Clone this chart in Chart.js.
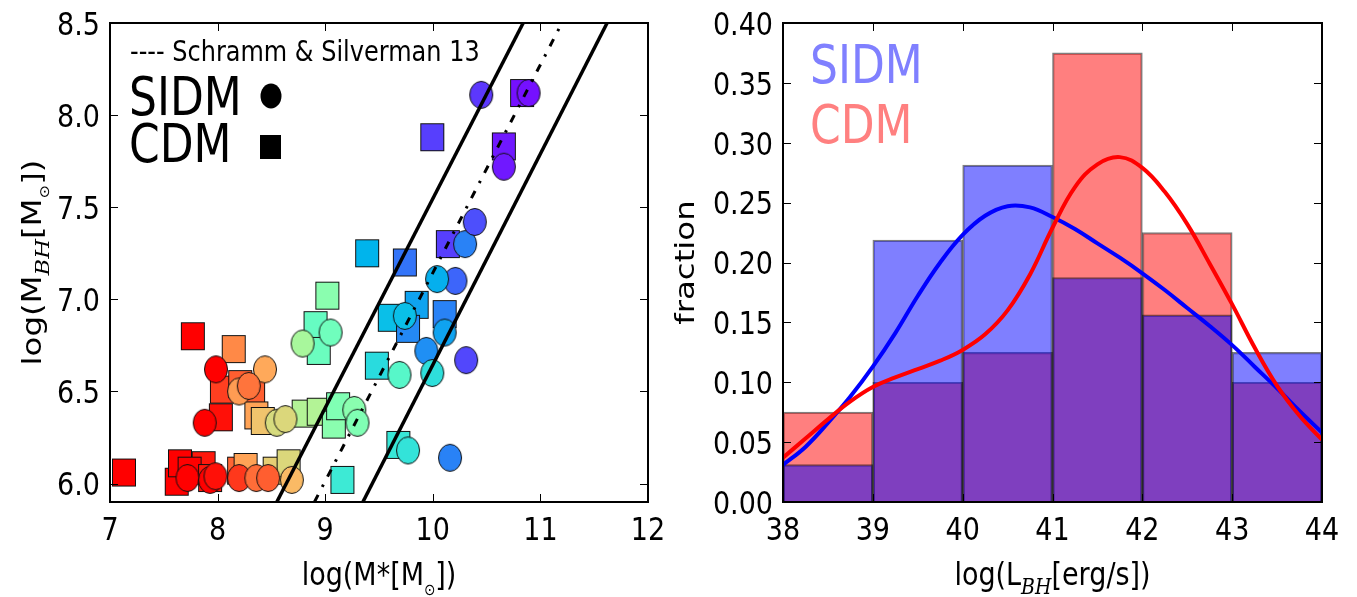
<!DOCTYPE html>
<html><head><meta charset="utf-8">
<script src="https://cdn.jsdelivr.net/npm/chart.js@4.4.1/dist/chart.umd.min.js"></script>
<style>
html,body{margin:0;padding:0;background:#fff;width:1357px;height:597px;overflow:hidden}
#c1{position:absolute;left:0;top:0}
#c2{position:absolute;left:640px;top:0}
</style></head><body>
<canvas id="c1" width="700" height="597"></canvas>
<canvas id="c2" width="717" height="597"></canvas>
<script>
// ---------- Left panel data: log M* vs log M_BH ----------
const cdmMstar = [7.13,7.77,8.15,8.04,8.21,8.33,8.03,8.36,8.42,7.62,7.65,7.87,7.74,7.93,8.20,8.26,8.53,8.66,9.16,8.80,8.94,9.08,9.12,8.91,8.94,9.02,9.39,9.48,9.74,10.14,9.60,9.85,10.11,9.77,9.68,10.83,9.995,10.66];
const cdmMbh   = [6.06,6.80,6.73,6.51,6.54,6.51,6.36,6.37,6.34,6.01,6.11,6.10,6.07,6.03,6.07,6.09,6.07,6.11,6.02,6.38,6.39,6.32,6.42,6.86,6.72,7.02,7.25,6.64,7.20,7.30,6.90,6.97,6.92,6.84,6.21,8.12,7.88,7.83];
const cdmColour= [1.0,1.0,0.82,0.92,0.88,0.88,0.98,0.78,0.72,1.0,1.0,0.97,1.0,0.97,0.87,0.78,0.70,0.68,0.37,0.60,0.60,0.52,0.50,0.45,0.46,0.52,0.25,0.33,0.15,0.08,0.27,0.22,0.17,0.18,0.36,0.02,0.08,0.03];

const sidmMstar = [7.985,7.88,8.44,8.20,8.29,8.55,8.63,8.79,9.05,7.72,7.93,7.98,8.20,8.36,8.47,8.69,10.30,10.21,10.04,9.74,10.11,9.94,10.31,9.995,9.69,9.27,9.30,9.77,10.16,10.45,10.89,10.66,10.39];
const sidmMbh   = [6.62,6.33,6.62,6.50,6.53,6.33,6.35,6.76,6.82,6.03,6.02,6.04,6.03,6.03,6.03,6.02,7.30,7.10,7.11,6.91,6.82,6.72,6.67,6.60,6.59,6.40,6.33,6.18,6.14,8.11,8.12,7.72,7.42];
const sidmColour= [1.0,1.0,0.77,0.79,0.85,0.67,0.68,0.58,0.47,1.0,1.0,0.98,0.93,0.86,0.88,0.74,0.17,0.13,0.24,0.27,0.22,0.19,0.09,0.34,0.42,0.52,0.50,0.35,0.17,0.07,0.02,0.03,0.10];

// relation lines (end points, data units)
const ssRelX = [8.90, 11.20], ssRelY = [5.9, 8.5];     // Schramm & Silverman 13
const upperX = [8.55, 10.84], upperY = [5.9, 8.5];
const lowerX = [9.35, 11.62], lowerY = [5.9, 8.5];

const leftXTicks = [7,8,9,10,11,12];
const leftXLabels = ['7','8','9','10','11','12'];
const leftYTicks = [6.0,6.5,7.0,7.5,8.0,8.5];
const leftYLabels = ['6.0','6.5','7.0','7.5','8.0','8.5'];

// ---------- Right panel data: histogram of log L_BH ----------
const binCenters = [38.5,39.5,40.5,41.5,42.5,43.5];
const sidmFrac = [0.03125,0.21875,0.28125,0.1875,0.15625,0.125];
const cdmFrac  = [0.075,0.100,0.125,0.375,0.225,0.100];
const kdeX    = [38,38.25,38.5,38.75,39,39.25,39.5,39.75,40,40.25,40.5,40.75,41,41.25,41.5,41.75,42,42.25,42.5,42.75,43,43.25,43.5,43.75,44];
const sidmKde = [0.031,0.046,0.066,0.088,0.113,0.141,0.172,0.200,0.223,0.239,0.247,0.246,0.238,0.228,0.216,0.204,0.191,0.177,0.162,0.147,0.131,0.113,0.095,0.076,0.058];
const cdmKde  = [0.037,0.053,0.069,0.084,0.096,0.104,0.111,0.118,0.127,0.140,0.160,0.190,0.229,0.263,0.282,0.288,0.279,0.259,0.232,0.199,0.165,0.129,0.097,0.072,0.052];

const rightXTicks = [38,39,40,41,42,43,44];
const rightXLabels = ['38','39','40','41','42','43','44'];
const rightYTicks = [0,0.05,0.10,0.15,0.20,0.25,0.30,0.35,0.40];
const rightYLabels = ['0.00','0.05','0.10','0.15','0.20','0.25','0.30','0.35','0.40'];

// ---------- helpers ----------
const SY = 1.2;        // vertical stretch of the original figure
const FS = 27;         // tick / title font size
const TL = 8;          // tick length
const SANS = '"DejaVu Sans"';

function rainbow(c){
  const r = Math.min(1, Math.abs(2*c-0.5)), g = Math.max(0, Math.sin(Math.PI*c)), b = Math.max(0, Math.cos(Math.PI*c/2));
  return `rgb(${Math.round(r*255)},${Math.round(g*255)},${Math.round(b*255)})`;
}
function marker(shape, colour){
  const cv = document.createElement('canvas');
  cv.width = 26; cv.height = 30;
  const g = cv.getContext('2d');
  g.fillStyle = colour; g.strokeStyle = '#111'; g.lineWidth = 1;
  if (shape === 'circle'){
    g.beginPath(); g.ellipse(13, 15, 11.5, 13.5, 0, 0, Math.PI*2); g.fill(); g.stroke();
  } else {
    g.fillRect(1, 1, 24, 28); g.strokeRect(1.5, 1.5, 23, 27);
  }
  return cv;
}
const cdmMarkers = cdmColour.map(c => marker('square', rainbow(c)));
const sidmMarkers = sidmColour.map(c => marker('circle', rainbow(c)));

function fontOf(s){ return `${s.italic ? 'italic ' : ''}${s.size}px ${s.family || SANS}`; }
function drawText(ctx, segs, x, y, align, rot){
  ctx.save();
  ctx.translate(x, y); ctx.scale(1, SY);
  if (rot) ctx.rotate(-Math.PI/2);
  ctx.textBaseline = 'alphabetic'; ctx.textAlign = 'left';
  let w = 0;
  segs.forEach(s => { ctx.font = fontOf(s); s.w = ctx.measureText(s.t).width; w += s.w; });
  let cx = align === 'center' ? -w/2 : (align === 'right' ? -w : 0);
  segs.forEach(s => { ctx.font = fontOf(s); ctx.fillStyle = s.color || '#000'; ctx.fillText(s.t, cx, s.dy || 0); cx += s.w; });
  ctx.restore();
}
const T = (t) => ({t, size: FS});
const SUB = (t) => ({t, size: FS*0.7, italic: true, family: '"DejaVu Serif"', dy: FS*0.28});
const SUN = () => ({t: '\u2299', size: FS*0.5, dy: FS*0.3});

function decor(cfg){
  return {
    id: 'decor',
    afterDatasetsDraw(chart){
      const {ctx, chartArea: a} = chart;
      const x = chart.scales.x, y = chart.scales.y;
      ctx.save();
      ctx.strokeStyle = '#000'; ctx.lineWidth = 1;
      ctx.beginPath();
      cfg.xTicks.forEach(v => { const p = Math.round(x.getPixelForValue(v)) + 0.5;
        ctx.moveTo(p, a.bottom); ctx.lineTo(p, a.bottom - TL); ctx.moveTo(p, a.top); ctx.lineTo(p, a.top + TL); });
      cfg.yTicks.forEach(v => { const p = Math.round(y.getPixelForValue(v)) + 0.5;
        ctx.moveTo(a.left, p); ctx.lineTo(a.left + TL, p); ctx.moveTo(a.right, p); ctx.lineTo(a.right - TL, p); });
      ctx.stroke();
      ctx.lineWidth = 2;
      ctx.strokeRect(a.left, a.top, a.right - a.left, a.bottom - a.top);
      cfg.xTicks.forEach((v, i) => drawText(ctx, [T(cfg.xLabels[i])], x.getPixelForValue(v), 540, 'center'));
      cfg.yTicks.forEach((v, i) => drawText(ctx, [T(cfg.yLabels[i])], a.left - 10, y.getPixelForValue(v) + 11.8, 'right'));
      drawText(ctx, cfg.xTitle, (a.left + a.right)/2, 585, 'center');
      drawText(ctx, cfg.yTitle, cfg.yTitleX, (a.top + a.bottom)/2, 'center', true);
      if (cfg.extra) cfg.extra(ctx, a);
      ctx.restore();
    }
  };
}

function baseScales(xmin, xmax, ymin, ymax, yWidth){
  return {
    x: {type: 'linear', min: xmin, max: xmax, offset: false, ticks: {display: false}, grid: {display: false}, border: {display: false},
        afterFit(s){ s.height = 95; }},
    y: {type: 'linear', min: ymin, max: ymax, ticks: {display: false}, grid: {display: false}, border: {display: false},
        afterFit(s){ s.width = yWidth; }}
  };
}
const pts = (xs, ys) => xs.map((v, i) => ({x: v, y: ys[i]}));

// ---------- Left chart ----------
new Chart(document.getElementById('c1'), {
  type: 'scatter',
  data: {datasets: [
    {type: 'line', data: pts(upperX, upperY), borderColor: '#000', borderWidth: 3.5, pointRadius: 0, order: 0},
    {type: 'line', data: pts(lowerX, lowerY), borderColor: '#000', borderWidth: 3.5, pointRadius: 0, order: 0},
    {type: 'line', data: pts(ssRelX, ssRelY), borderColor: '#000', borderWidth: 3, borderDash: [8, 9, 2.5, 9], pointRadius: 0, order: 0},
    {label: 'SIDM', data: pts(sidmMstar, sidmMbh), pointStyle: c => sidmMarkers[c.dataIndex], pointRadius: 12, order: 1},
    {label: 'CDM', data: pts(cdmMstar, cdmMbh), pointStyle: c => cdmMarkers[c.dataIndex], pointRadius: 12, order: 2}
  ]},
  options: {
    responsive: false, animation: false, events: [],
    layout: {padding: {left: 0, right: 52, top: 23, bottom: 0}, autoPadding: false},
    plugins: {legend: {display: false}, tooltip: {enabled: false}},
    scales: baseScales(7, 12, 5.9, 8.5, 110)
  },
  plugins: [decor({
    xTicks: leftXTicks, xLabels: leftXLabels, yTicks: leftYTicks, yLabels: leftYLabels,
    xTitle: [T('log(M*[M'), SUN(), T('])')],
    yTitle: [T('log(M'), SUB('BH'), T('[M'), SUN(), T('])')],
    yTitleX: 41,
    extra(ctx){
      drawText(ctx, [{t: '---- Schramm & Silverman 13', size: 24}], 130, 61, 'left');
      drawText(ctx, [{t: 'SIDM', size: 44}], 129, 115, 'left');
      drawText(ctx, [{t: 'CDM', size: 44}], 129, 162, 'left');
      ctx.fillStyle = '#000';
      ctx.beginPath(); ctx.ellipse(271, 96, 10.5, 12.5, 0, 0, Math.PI*2); ctx.fill();
      ctx.fillRect(260, 135, 21, 24);
    }
  })]
});

// ---------- Right chart ----------
new Chart(document.getElementById('c2'), {
  type: 'bar',
  data: {datasets: [
    {type: 'line', data: pts(kdeX, cdmKde), borderColor: '#ff0000', borderWidth: 4, pointRadius: 0, tension: 0.4, order: 0},
    {type: 'line', data: pts(kdeX, sidmKde), borderColor: '#0000ff', borderWidth: 4, pointRadius: 0, tension: 0.4, order: 0},
    {label: 'SIDM', data: pts(binCenters, sidmFrac), backgroundColor: 'rgba(0,0,255,0.5)', borderColor: 'rgba(0,0,0,0.5)', borderWidth: 1.5,
     grouped: false, barPercentage: 1, categoryPercentage: 1, order: 1},
    {label: 'CDM', data: pts(binCenters, cdmFrac), backgroundColor: 'rgba(255,0,0,0.5)', borderColor: 'rgba(0,0,0,0.5)', borderWidth: 1.5,
     grouped: false, barPercentage: 1, categoryPercentage: 1, order: 2}
  ]},
  options: {
    responsive: false, animation: false, events: [],
    layout: {padding: {left: 0, right: 35, top: 23, bottom: 0}, autoPadding: false},
    plugins: {legend: {display: false}, tooltip: {enabled: false}},
    scales: baseScales(38, 44, 0, 0.4, 143)
  },
  plugins: [decor({
    xTicks: rightXTicks, xLabels: rightXLabels, yTicks: rightYTicks, yLabels: rightYLabels,
    xTitle: [T('log(L'), SUB('BH'), T('[erg/s])')],
    yTitle: [T('fraction')],
    yTitleX: 54,
    extra(ctx){
      drawText(ctx, [{t: 'SIDM', size: 44, color: '#8080ff'}], 170, 83, 'left');
      drawText(ctx, [{t: 'CDM', size: 44, color: '#ff8080'}], 170, 143, 'left');
    }
  })]
});
</script>
</body></html>
